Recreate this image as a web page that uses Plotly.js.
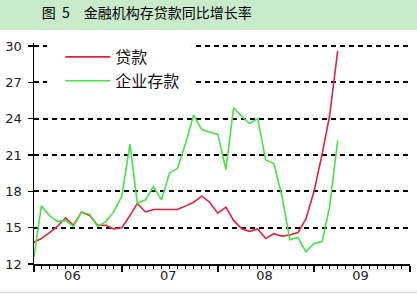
<!DOCTYPE html>
<html><head><meta charset="utf-8">
<script src="https://cdn.plot.ly/plotly-3.0.1.min.js"></script>
<style>html,body{margin:0;padding:0;background:#fff;}#chart{width:417px;height:295px;}</style>
</head><body><div id="chart"></div>
<script>
const months = ['2006-02','2006-03','2006-04','2006-05','2006-06','2006-07','2006-08','2006-09','2006-10','2006-11','2006-12',
'2007-01','2007-02','2007-03','2007-04','2007-05','2007-06','2007-07','2007-08','2007-09','2007-10','2007-11','2007-12',
'2008-01','2008-02','2008-03','2008-04','2008-05','2008-06','2008-07','2008-08','2008-09','2008-10','2008-11','2008-12',
'2009-01','2009-02','2009-03','2009-04'];
const loans = [13.8,14.1,14.6,15.1,15.8,15.2,16.3,16.0,15.2,15.2,14.9,
15.0,16.0,17.0,16.3,16.5,16.5,16.5,16.5,16.8,17.1,17.6,17.1,
16.2,16.7,15.6,14.9,14.7,14.9,14.1,14.5,14.3,14.4,14.6,15.7,
18.0,21.1,24.2,29.6];
const deposits = [12.6,16.8,16.0,15.5,15.6,15.1,16.3,16.1,15.1,15.5,16.3,
17.6,21.9,17.0,17.3,18.4,17.3,19.5,19.9,22.0,24.3,23.1,22.9,
22.7,19.8,24.9,24.2,23.6,24.0,20.6,20.3,17.6,14.0,14.2,13.0,
13.7,13.85,16.7,22.2];
const seriesNames = ['贷款','企业存款'];
const yearLabels = ['06','07','08','09'];
const yearLabelPos = ['2006-06-27','2007-06-27','2008-06-27','2009-06-27'];
const yearBounds = ['2006-02-01','2007-01-01','2008-01-01','2009-01-01','2010-01-01'];
const yTicks = [12,15,18,21,24,27,30];
const titleText = '图\u00a0\u00a05\u3000金融机构存贷款同比增长率';

const xRange = ['2006-02-01','2010-01-01'];
const numFont = {family:'DejaVu Sans, Verdana, sans-serif', size:13, color:'#222'};

const traces = [
  {x: months, y: loans, name: seriesNames[0], type:'scatter', mode:'lines',
   line:{color:'#e8203c', width:1.6}},
  {x: months, y: deposits, name: seriesNames[1], type:'scatter', mode:'lines',
   line:{color:'#44e444', width:1.6}},
  {x: [], y: [], xaxis:'x2', showlegend:false, hoverinfo:'skip'}
];

const layout = {
  width:417, height:295,
  margin:{l:34, r:7, t:43, b:31},
  paper_bgcolor:'#ffffff', plot_bgcolor:'rgba(0,0,0,0)',
  title:{text:titleText, font:{family:'Noto Sans CJK SC, sans-serif', size:14, color:'#000'},
    xref:'container', yref:'container', x:0.1, xanchor:'left', y:0.955, yanchor:'middle'},
  showlegend:true,
  legend:{x:0.07, y:1.0136, xanchor:'left', yanchor:'top', bgcolor:'rgba(0,0,0,0)', itemwidth:45,
    font:{family:'Noto Sans CJK SC, sans-serif', size:16, color:'#111'}, tracegroupgap:0},
  xaxis:{type:'date', range:xRange, showgrid:false, zeroline:false,
    showline:true, linecolor:'#000', linewidth:1.5,
    tickmode:'array', tickvals:yearBounds, ticktext:yearBounds.map(()=>''),
    ticks:'outside', ticklen:6, tickwidth:1.5, tickcolor:'#000',
    minor:{dtick:'M1', tick0:'2006-01-01', ticks:'outside', ticklen:3, tickwidth:1, tickcolor:'#000', showgrid:false}},
  xaxis2:{type:'date', range:xRange, overlaying:'x', anchor:'y', side:'bottom',
    showgrid:false, zeroline:false, showline:false, ticks:'',
    tickmode:'array', tickvals:yearLabelPos, ticktext:yearLabels,
    tickfont:numFont, ticklabelstandoff:2},
  yaxis:{range:[12,30.25], tickmode:'array', tickvals:yTicks,
    showline:true, linecolor:'#000', linewidth:1.5, zeroline:false,
    ticks:'outside', ticklen:5, tickwidth:1.5, tickcolor:'#000',
    showgrid:true, gridcolor:'#000', gridwidth:2, griddash:'5px,4px',
    tickfont:numFont, ticklabelstandoff:3},
  shapes:[
    {type:'rect', xref:'paper', yref:'paper', x0:-0.1, x1:1.1, y0:1.0588, y1:1.3,
     fillcolor:'#c8ebcc', line:{width:0}, layer:'below'},
    {type:'rect', xref:'paper', yref:'paper', x0:0.035, x1:0.42, y0:0.78, y1:1.03,
     fillcolor:'#ffffff', line:{width:0}, layer:'above'},
    {type:'line', xref:'paper', yref:'paper', x0:-0.1, x1:1.1, y0:-0.129, y1:-0.129,
     line:{color:'#d6ddd6', width:1.5}}
  ]
};

Plotly.newPlot('chart', traces, layout, {displayModeBar:false, staticPlot:true});
</script></body></html>
